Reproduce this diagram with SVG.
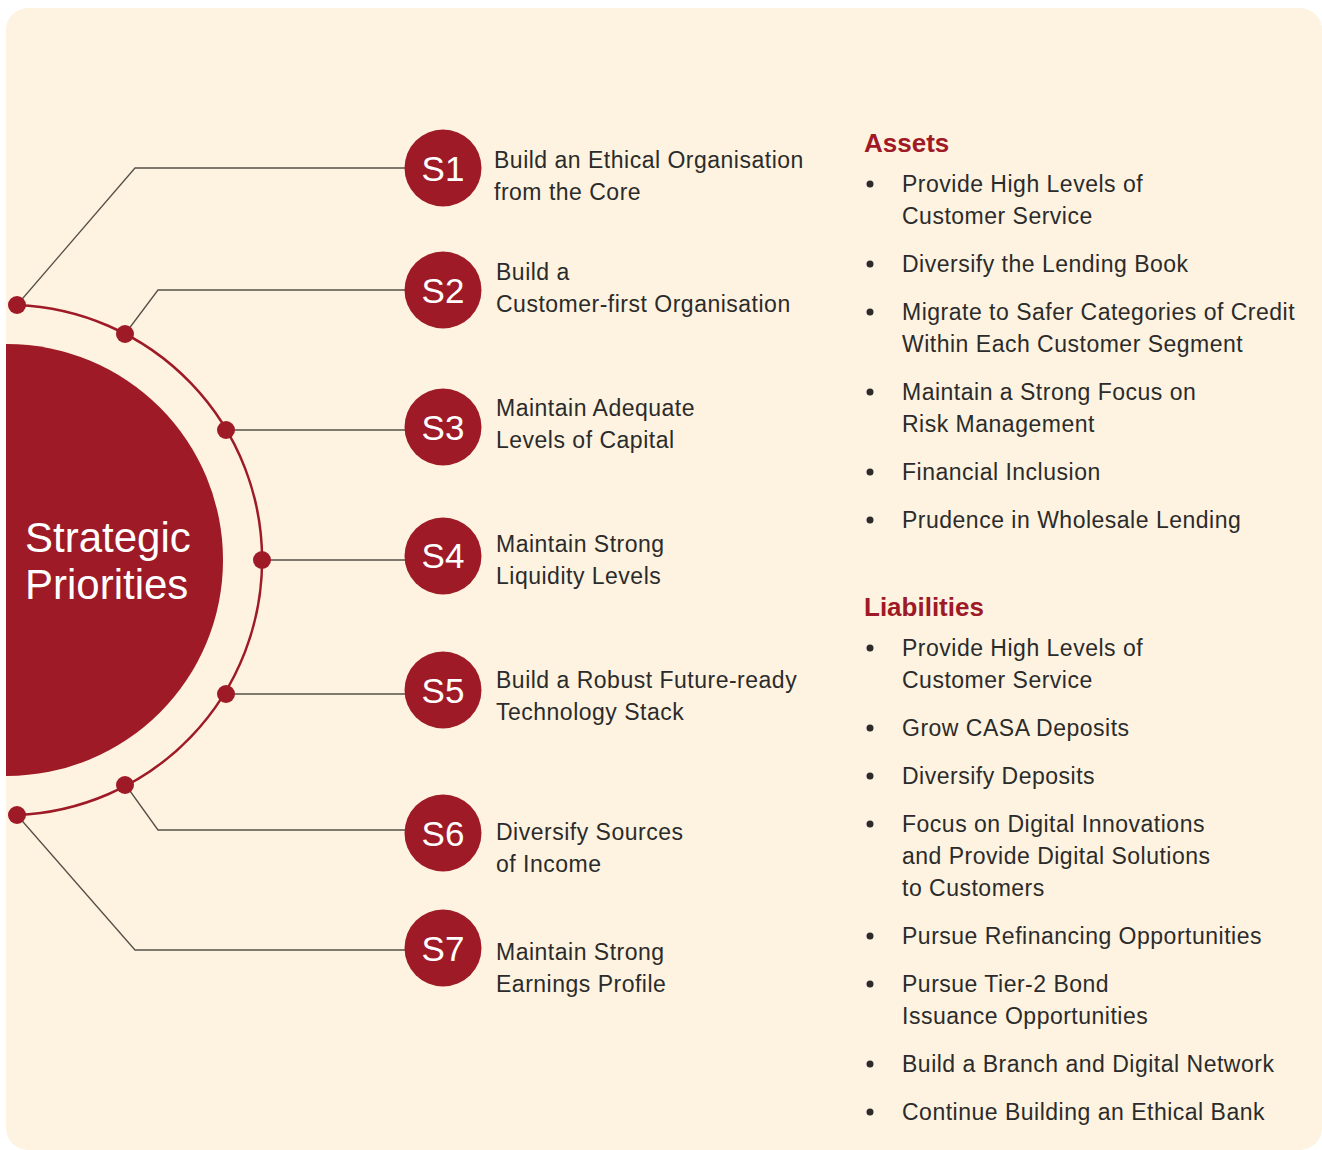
<svg xmlns="http://www.w3.org/2000/svg" width="1322" height="1150" viewBox="0 0 1322 1150">
<defs>
<clipPath id="bgclip"><rect x="6" y="8" width="1316" height="1142" rx="22"/></clipPath>
<style>
.lbl{font-family:"Liberation Sans",Arial,sans-serif;font-size:23px;fill:#2b2b2b;letter-spacing:0.5px}
.snum{font-family:"Liberation Sans",Arial,sans-serif;font-size:35px;fill:#ffffff;text-anchor:middle}
.head{font-family:"Liberation Sans",Arial,sans-serif;font-size:26px;font-weight:bold;fill:#9e1a27}
.title{font-family:"Liberation Sans",Arial,sans-serif;font-size:42px;fill:#ffffff}
.bul{fill:#2b2b2b}
.conn{fill:none;stroke:#555048;stroke-width:1.3}
.dot{fill:#9e1a27}
.sc{fill:#9e1a27}
</style>
</defs>
<rect x="6" y="8" width="1316" height="1142" rx="22" fill="#fef3e0"/>
<g id="center" clip-path="url(#bgclip)">
<circle cx="7" cy="560" r="216" fill="#9e1a27"/>
<text class="title" x="25" y="552">Strategic</text>
<text class="title" x="25" y="599">Priorities</text>
</g>
<g id="ring">
<path d="M17,305 A255.2,255.2 0 0 1 17,815" fill="none" stroke="#9e1a27" stroke-width="2.5"/>
</g>
<g id="connectors">
<polyline class="conn" points="17,305 135,168 405,168"/>
<polyline class="conn" points="125,334 158,290 405,290"/>
<polyline class="conn" points="226,430 405,430"/>
<polyline class="conn" points="262,560 405,560"/>
<polyline class="conn" points="226,694 405,694"/>
<polyline class="conn" points="125,784 158,830 405,830"/>
<polyline class="conn" points="17,815 135,950 405,950"/>
<circle class="dot" cx="17" cy="305" r="9"/>
<circle class="dot" cx="125" cy="334" r="9"/>
<circle class="dot" cx="226" cy="430" r="9"/>
<circle class="dot" cx="262" cy="560" r="9"/>
<circle class="dot" cx="226" cy="694" r="9"/>
<circle class="dot" cx="125" cy="785" r="9"/>
<circle class="dot" cx="17" cy="815" r="9"/>
</g>
<g id="s1"><circle class="sc" cx="443" cy="168" r="38.5"/><text class="snum" x="443" y="181">S1</text>
<text class="lbl" x="494" y="168">Build an Ethical Organisation</text><text class="lbl" x="494" y="200">from the Core</text></g>
<g id="s2"><circle class="sc" cx="443" cy="290" r="38.5"/><text class="snum" x="443" y="303">S2</text>
<text class="lbl" x="496" y="280">Build a</text><text class="lbl" x="496" y="312">Customer-first Organisation</text></g>
<g id="s3"><circle class="sc" cx="443" cy="427" r="38.5"/><text class="snum" x="443" y="440">S3</text>
<text class="lbl" x="496" y="416">Maintain Adequate</text><text class="lbl" x="496" y="448">Levels of Capital</text></g>
<g id="s4"><circle class="sc" cx="443" cy="556" r="38.5"/><text class="snum" x="443" y="568">S4</text>
<text class="lbl" x="496" y="552">Maintain Strong</text><text class="lbl" x="496" y="584">Liquidity Levels</text></g>
<g id="s5"><circle class="sc" cx="443" cy="690" r="38.5"/><text class="snum" x="443" y="703">S5</text>
<text class="lbl" x="496" y="688">Build a Robust Future-ready</text><text class="lbl" x="496" y="720">Technology Stack</text></g>
<g id="s6"><circle class="sc" cx="443" cy="833" r="38.5"/><text class="snum" x="443" y="846">S6</text>
<text class="lbl" x="496" y="840">Diversify Sources</text><text class="lbl" x="496" y="872">of Income</text></g>
<g id="s7"><circle class="sc" cx="443" cy="948" r="38.5"/><text class="snum" x="443" y="961">S7</text>
<text class="lbl" x="496" y="960">Maintain Strong</text><text class="lbl" x="496" y="992">Earnings Profile</text></g>
<g id="assets">
<text class="head" x="864" y="152">Assets</text>
<circle class="bul" cx="870" cy="184" r="3.5"/><text class="lbl" x="902" y="192">Provide High Levels of</text><text class="lbl" x="902" y="224">Customer Service</text>
<circle class="bul" cx="870" cy="264" r="3.5"/><text class="lbl" x="902" y="272">Diversify the Lending Book</text>
<circle class="bul" cx="870" cy="312" r="3.5"/><text class="lbl" x="902" y="320">Migrate to Safer Categories of Credit</text><text class="lbl" x="902" y="352">Within Each Customer Segment</text>
<circle class="bul" cx="870" cy="392" r="3.5"/><text class="lbl" x="902" y="400">Maintain a Strong Focus on</text><text class="lbl" x="902" y="432">Risk Management</text>
<circle class="bul" cx="870" cy="472" r="3.5"/><text class="lbl" x="902" y="480">Financial Inclusion</text>
<circle class="bul" cx="870" cy="520" r="3.5"/><text class="lbl" x="902" y="528">Prudence in Wholesale Lending</text>
</g>
<g id="liabilities">
<text class="head" x="864" y="616">Liabilities</text>
<circle class="bul" cx="870" cy="648" r="3.5"/><text class="lbl" x="902" y="656">Provide High Levels of</text><text class="lbl" x="902" y="688">Customer Service</text>
<circle class="bul" cx="870" cy="728" r="3.5"/><text class="lbl" x="902" y="736">Grow CASA Deposits</text>
<circle class="bul" cx="870" cy="776" r="3.5"/><text class="lbl" x="902" y="784">Diversify Deposits</text>
<circle class="bul" cx="870" cy="824" r="3.5"/><text class="lbl" x="902" y="832">Focus on Digital Innovations</text><text class="lbl" x="902" y="864">and Provide Digital Solutions</text><text class="lbl" x="902" y="896">to Customers</text>
<circle class="bul" cx="870" cy="936" r="3.5"/><text class="lbl" x="902" y="944">Pursue Refinancing Opportunities</text>
<circle class="bul" cx="870" cy="984" r="3.5"/><text class="lbl" x="902" y="992">Pursue Tier-2 Bond</text><text class="lbl" x="902" y="1024">Issuance Opportunities</text>
<circle class="bul" cx="870" cy="1064" r="3.5"/><text class="lbl" x="902" y="1072">Build a Branch and Digital Network</text>
<circle class="bul" cx="870" cy="1112" r="3.5"/><text class="lbl" x="902" y="1120">Continue Building an Ethical Bank</text>
</g>
</svg>
